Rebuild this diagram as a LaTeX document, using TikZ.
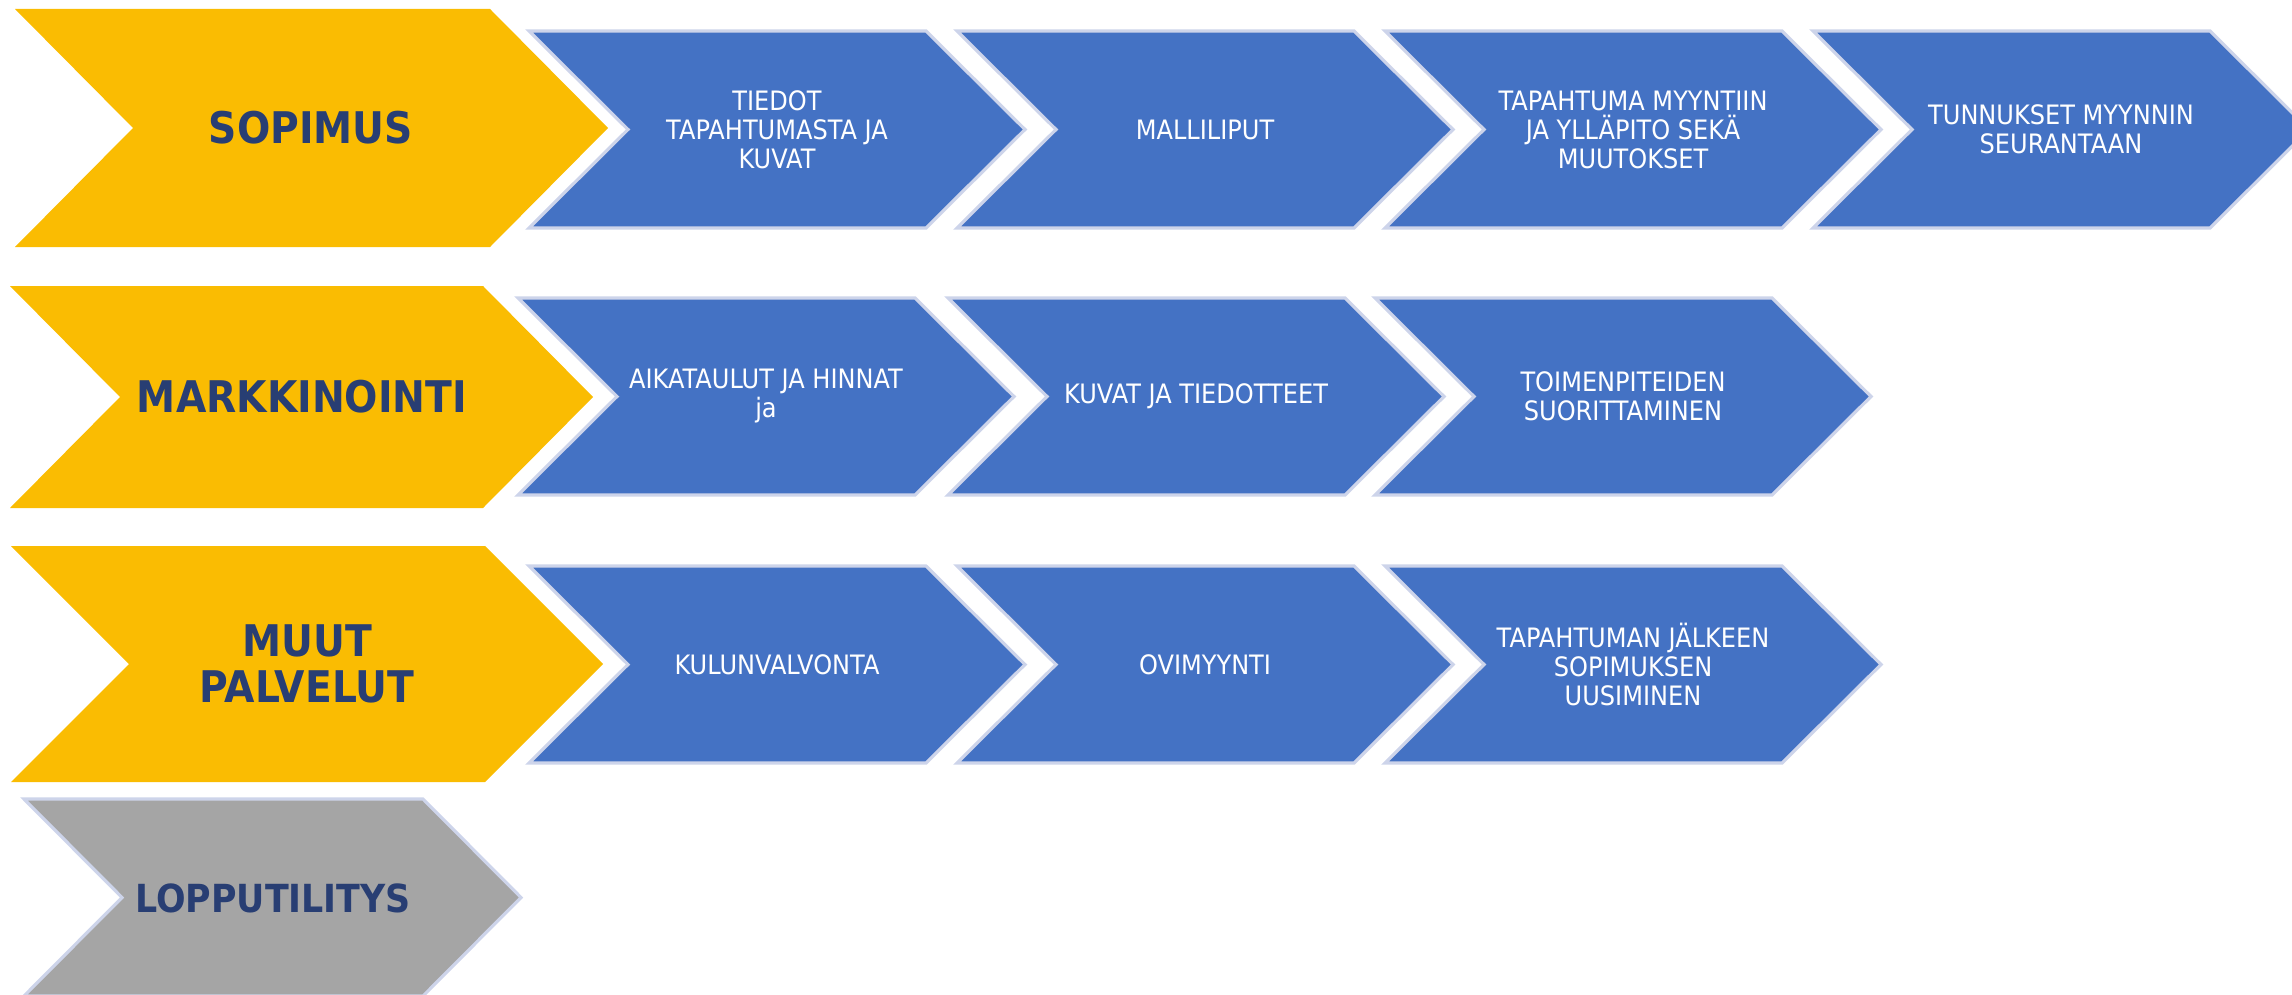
\documentclass[tikz,border=0pt]{standalone}
\usepackage{fontspec}
\setmainfont[FakeStretch=0.9]{DejaVu Sans}
\definecolor{gold}{RGB}{250,188,2}
\definecolor{steel}{RGB}{68,114,196}
\definecolor{ash}{RGB}{165,165,165}
\definecolor{navy}{RGB}{40,62,115}
\definecolor{rim}{RGB}{205,212,234}

\begin{document}
\begin{tikzpicture}[x=0.01cm,y=-0.01cm,line join=miter,
    yellowbox/.style={fill=gold},
    bluebox/.style={fill=steel,draw=rim,line width=0.9pt},
    graybox/.style={fill=ash,draw=rim,line width=0.9pt},
    headtxt/.style={text=navy,font=\fontsize{12.4}{13}\selectfont\bfseries,align=center},
    boxtxt/.style={text=white,font=\fontsize{7.6}{8.25}\selectfont,align=center}]
    \useasboundingbox (0,0) rectangle (2292,994);
    % vaiheet
    \path[yellowbox] (15,9) -- ++(475,0) -- ++(118,119) -- ++(-118,119) -- ++(-475,0) -- ++(118,-119) -- cycle;
    \node[headtxt] (sopimus) at (311,128) {SOPIMUS};
    \path[yellowbox] (10,286) -- ++(473,0) -- ++(110,111) -- ++(-110,111) -- ++(-473,0) -- ++(110,-111) -- cycle;
    \node[headtxt] (markkinointi) at (302,397) {MARKKINOINTI};
    \path[yellowbox] (11,546) -- ++(474,0) -- ++(118,118) -- ++(-118,118) -- ++(-474,0) -- ++(118,-118) -- cycle;
    \node[headtxt] (muut) at (307,664) {MUUT\\PALVELUT};
    \path[graybox] (24,799) -- ++(399,0) -- ++(98,98.5) -- ++(-98,98.5) -- ++(-399,0) -- ++(98,-98.5) -- cycle;
    \node[headtxt,font=\fontsize{11}{12}\selectfont\bfseries] (lopputilitys) at (273,898) {LOPPUTILITYS};
    % tehtavat
    \foreach \x/\t [count=\i] in {529/{TIEDOT\\TAPAHTUMASTA JA\\KUVAT}, 957/MALLILIPUT,
        1385/{TAPAHTUMA MYYNTIIN\\JA YLLÄPITO SEKÄ\\MUUTOKSET}, 1813/{TUNNUKSET MYYNNIN\\SEURANTAAN}}{%
        \path[bluebox] (\x,31) -- ++(397,0) -- ++(99,98.5) -- ++(-99,98.5) -- ++(-397,0) -- ++(99,-98.5) -- cycle;
        \node[boxtxt] (sop\i) at (\x+248,129.5) {\t};
    }%
    \foreach \x/\t [count=\i] in {518/{AIKATAULUT JA HINNAT\\ja}, 948/KUVAT JA TIEDOTTEET,
        1375/{TOIMENPITEIDEN\\SUORITTAMINEN}}{%
        \path[bluebox] (\x,298) -- ++(397,0) -- ++(99,98.5) -- ++(-99,98.5) -- ++(-397,0) -- ++(99,-98.5) -- cycle;
        \node[boxtxt] (mark\i) at (\x+248,396.5) {\t};
    }%
    \foreach \x/\t [count=\i] in {529/KULUNVALVONTA, 957/OVIMYYNTI,
        1385/{TAPAHTUMAN JÄLKEEN\\SOPIMUKSEN\\UUSIMINEN}}{%
        \path[bluebox] (\x,566) -- ++(397,0) -- ++(99,98.5) -- ++(-99,98.5) -- ++(-397,0) -- ++(99,-98.5) -- cycle;
        \node[boxtxt] (muu\i) at (\x+248,664.5) {\t};
    }%
\end{tikzpicture}
\end{document}
